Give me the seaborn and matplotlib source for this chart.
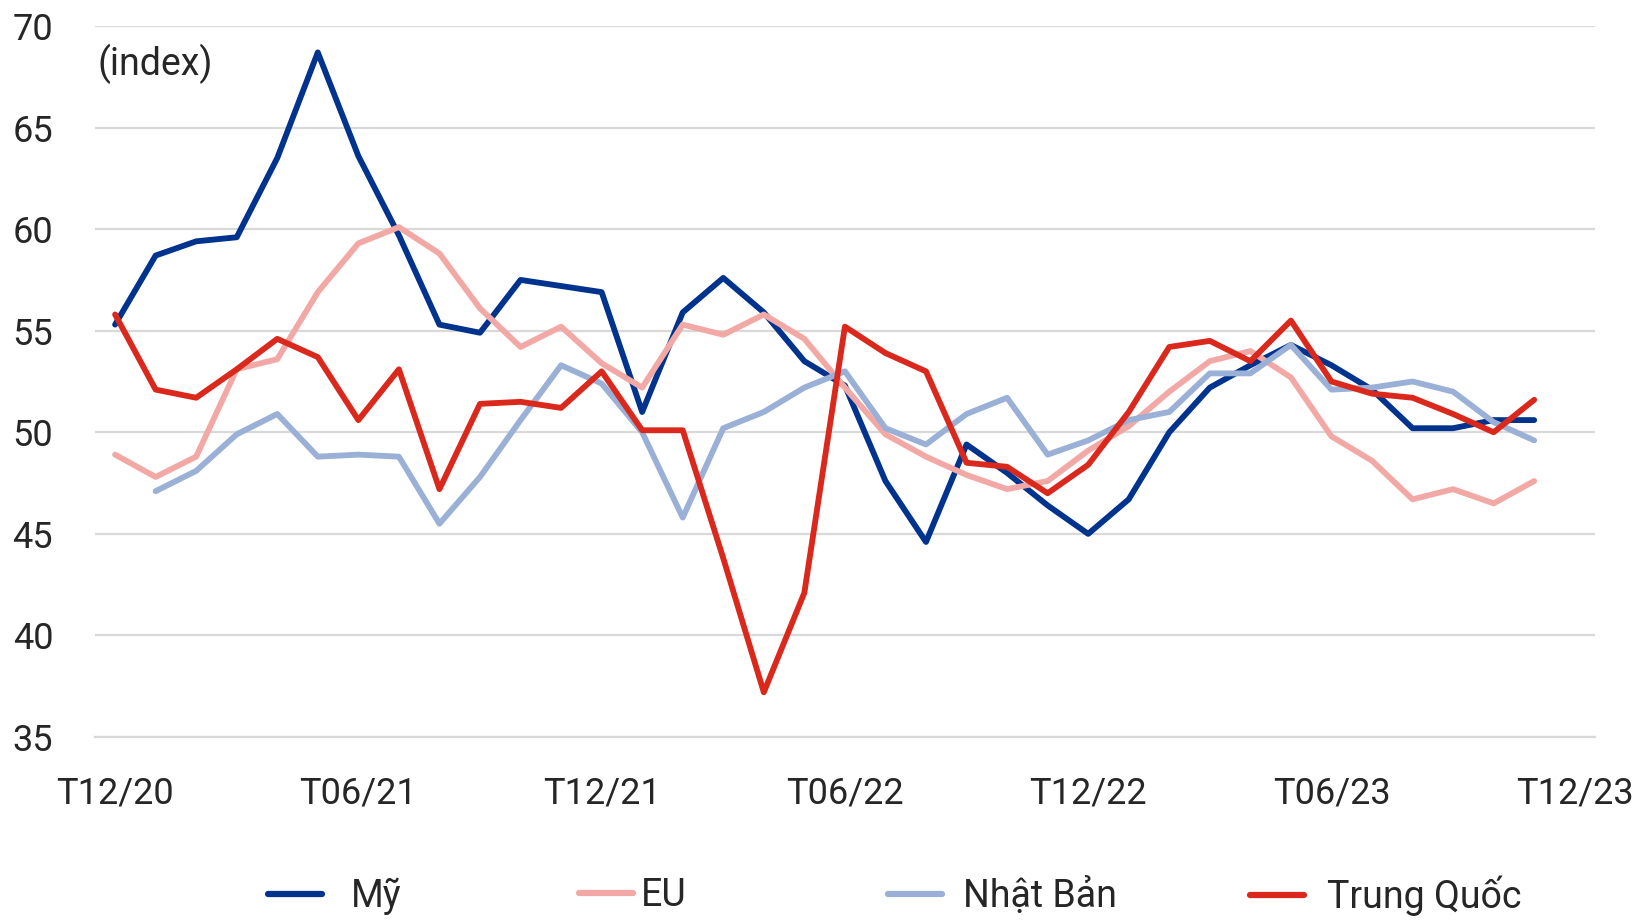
import numpy as np
import pandas as pd
import matplotlib
matplotlib.use("Agg")
import matplotlib.pyplot as plt
import seaborn as sns

# ---------------- data ----------------
tick_labels = ["T12/20", "T06/21", "T12/21", "T06/22", "T12/22", "T06/23", "T12/23"]
n_categories = 37  # T12/20 .. T12/23 (monthly)

my = [55.3, 58.7, 59.4, 59.6, 63.5, 68.7, 63.6, 59.7, 55.3, 54.9, 57.5, 57.2,
      56.9, 51.0, 55.9, 57.6, 55.9, 53.5, 52.3, 47.6, 44.6, 49.4, 48.0, 46.4,
      45.0, 46.7, 50.0, 52.2, 53.3, 54.3, 53.3, 52.1, 50.2, 50.2, 50.6, 50.6]
eu = [48.9, 47.8, 48.8, 53.1, 53.6, 56.9, 59.3, 60.1, 58.8, 56.1, 54.2, 55.2,
      53.4, 52.2, 55.3, 54.8, 55.8, 54.6, 52.2, 49.9, 48.8, 47.9, 47.2, 47.6,
      49.1, 50.3, 52.0, 53.5, 54.0, 52.7, 49.8, 48.6, 46.7, 47.2, 46.5, 47.6]
nhat_ban = [np.nan, 47.1, 48.1, 49.9, 50.9, 48.8, 48.9, 48.8, 45.5, 47.8, 50.6, 53.3,
            52.4, 50.0, 45.8, 50.2, 51.0, 52.2, 53.0, 50.2, 49.4, 50.9, 51.7, 48.9,
            49.6, 50.6, 51.0, 52.9, 52.9, 54.3, 52.1, 52.2, 52.5, 52.0, 50.5, 49.6]
trung_quoc = [55.8, 52.1, 51.7, 53.1, 54.6, 53.7, 50.6, 53.1, 47.2, 51.4, 51.5, 51.2,
              53.0, 50.1, 50.1, 43.8, 37.2, 42.1, 55.2, 53.9, 53.0, 48.5, 48.3, 47.0,
              48.4, 51.0, 54.2, 54.5, 53.5, 55.5, 52.5, 51.9, 51.7, 50.9, 50.0, 51.6]

series_names = ["Mỹ", "EU", "Nhật Bản", "Trung Quốc"]
colors = ["#00338D", "#F2A9A5", "#9AB0D6", "#DA291C"]

# ---------------- build long-form table ----------------
frames = []
for name, vals in zip(series_names, [my, eu, nhat_ban, trung_quoc]):
    frames.append(pd.DataFrame({"idx": np.arange(len(vals)), "value": vals, "series": name}))
df = pd.concat(frames, ignore_index=True).dropna()

# ---------------- style ----------------
sns.set_theme(style="white")
plt.rcParams["font.family"] = ["Roboto", "DejaVu Sans"]
text_color = "#262626"
grid_color = "#D9D9D9"
FS = 26

W, H = 1651, 923
fig = plt.figure(figsize=(W / 100, H / 100), dpi=100)
left, right, top, bottom = 94.8, 1595, 26, 737
ax = fig.add_axes([left / W, 1 - bottom / H, (right - left) / W, (bottom - top) / H])

sns.lineplot(data=df, x="idx", y="value", hue="series", hue_order=series_names,
             palette=colors, linewidth=4.2, legend=False, sort=False, ax=ax)
for ln in ax.get_lines():
    ln.set_solid_joinstyle("round")
    ln.set_solid_capstyle("round")

ax.set_xlim(-0.5, n_categories - 0.5)
ax.set_ylim(35, 70)
ax.set_yticks(np.arange(35, 71, 5))
ax.yaxis.grid(True, color=grid_color, linewidth=1.6)
ax.xaxis.grid(False)
ax.set_axisbelow(True)
for s in ["left", "right", "top"]:
    ax.spines[s].set_visible(False)
ax.spines["bottom"].set_color(grid_color)
ax.spines["bottom"].set_linewidth(1.6)

ax.set_xticks(np.arange(0, n_categories, 6))
ax.set_xticklabels(tick_labels)
ax.set_xticks(np.arange(-0.5, n_categories - 1, 6), minor=True)
ax.tick_params(axis="x", which="major", length=0, pad=28, labelsize=FS, labelcolor=text_color)
ax.tick_params(axis="x", which="minor", length=9, width=1.6, color=grid_color, direction="out")
ax.tick_params(axis="y", length=0, pad=30, labelsize=FS, labelcolor=text_color)
ax.set_xlabel("")
ax.set_ylabel("")

fig.text(97 / W, 1 - 44 / H, "(index)", fontsize=FS + 1, color=text_color, va="top", ha="left")

# legend entries placed individually (Excel-like spacing)
handles = ax.get_lines()[:4]
leg_x = [268, 579, 888, 1250]
leg_pad = [0.75, 0.2, 0.55, 0.6]
for h, name, lx, pad in zip(handles, series_names, leg_x, leg_pad):
    leg = fig.legend([h], [name], loc="center left", bbox_to_anchor=(lx / W, 1 - 896 / H),
                     frameon=False, fontsize=FS + 1, handlelength=1.45, handletextpad=pad,
                     borderpad=0, borderaxespad=0, labelcolor=text_color)
    for lh in leg.get_lines():
        lh.set_linewidth(4.5)
        lh.set_solid_capstyle("round")

fig.savefig("out.png", dpi=100, facecolor="white")
